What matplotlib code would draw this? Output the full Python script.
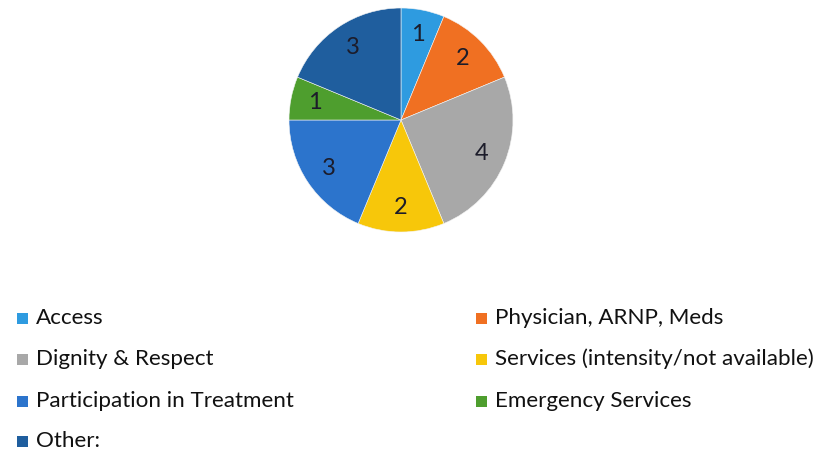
import matplotlib
matplotlib.use("Agg")
import matplotlib.pyplot as plt
from matplotlib.patches import Rectangle

categories = ["Access", "Physician, ARNP, Meds", "Dignity & Respect",
              "Services (intensity/not available)", "Participation in Treatment",
              "Emergency Services", "Other:"]
values = [1, 2, 4, 2, 3, 1, 3]
colors = ["#2E9BE0", "#F07022", "#A8A8A8", "#F7C70A", "#2C74CC", "#4E9E2E", "#1F5E9E"]

plt.rcParams['font.family'] = ['Lato', 'DejaVu Sans']

W, H = 821, 453
fig = plt.figure(figsize=(W / 100, H / 100), dpi=100)
ax = fig.add_axes([0, 0, 1, 1])

total = sum(values)
cx, cy, r = 401, H - 120, 112
wedges, texts, autotexts = ax.pie(
    values, colors=colors, startangle=90, counterclock=False,
    center=(cx, cy), radius=r, frame=True,
    autopct=lambda p: f"{round(p * total / 100):d}", pctdistance=0.78,
    wedgeprops=dict(linewidth=0.4, edgecolor="#f4f4f4"),
    textprops=dict(fontsize=17, color="#1c1c2a"))
ax.set_xlim(0, W)
ax.set_ylim(0, H)
ax.set_aspect('equal')
ax.axis('off')

# legend: row-major, two columns
col_x = [17, 476]
row_y = [318, 359, 401, 441]
sq = 11
for i, (name, c) in enumerate(zip(categories, colors)):
    row, col = divmod(i, 2)
    x = col_x[col]
    y = H - row_y[row]
    ax.add_patch(Rectangle((x, y - sq / 2), sq, sq, facecolor=c, edgecolor="none"))
    ax.text(x + 19, y, name, fontsize=16.1, va='center', ha='left', color="#111111")

fig.savefig("out.png", dpi=100)
